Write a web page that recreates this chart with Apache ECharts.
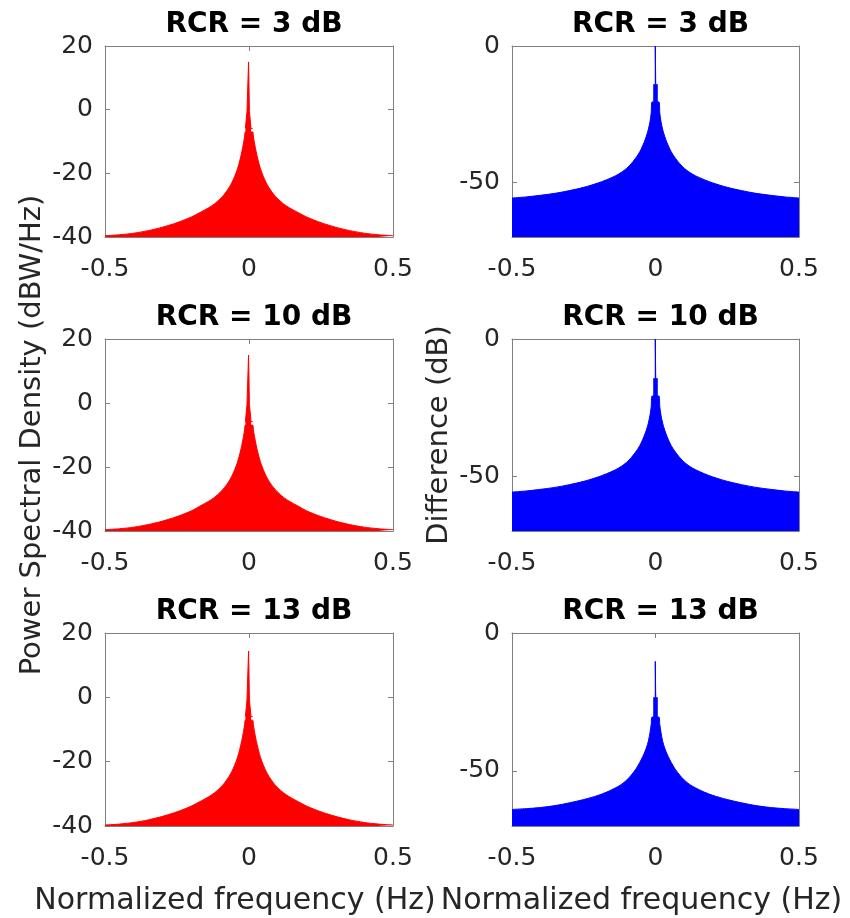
<!DOCTYPE html>
<html>
<head>
<meta charset="utf-8">
<script src="https://cdn.jsdelivr.net/npm/echarts@6/dist/echarts.min.js"></script>
<style>
html,body{margin:0;padding:0;background:#fff;}
#chart{width:850px;height:918px;}
</style>
</head>
<body>
<div id="chart"></div>
<script>
// ---- data ----
const titles = ['RCR = 3 dB', 'RCR = 10 dB', 'RCR = 13 dB'];
const xTicks = [-0.5, 0, 0.5];
const psdTicks = [-40, -20, 0, 20];
const diffTicks = [-50, 0];

// left column (PSD): envelope of the skirts
const leftTailFreq = [-0.5,-0.45,-0.4,-0.35,-0.3,-0.25,-0.2,-0.17,-0.14,-0.12,-0.1,-0.085,-0.07,-0.06,-0.05,-0.04,-0.032,-0.025,-0.019,-0.015,-0.0125,
  0.0125,0.015,0.019,0.025,0.032,0.04,0.05,0.06,0.07,0.085,0.1,0.12,0.14,0.17,0.2,0.25,0.3,0.35,0.4,0.45,0.5];
const psdTail3 = [-39.6,-39.3,-38.8,-38.0,-36.9,-35.5,-33.7,-32.3,-30.8,-29.6,-28.0,-26.5,-24.6,-23.0,-21.0,-18.6,-16.0,-13.3,-10.5,-8.3,-7.0,
  -7.0,-8.3,-10.5,-13.3,-16.0,-18.6,-21.0,-23.0,-24.6,-26.5,-28.0,-29.6,-30.8,-32.3,-33.7,-35.5,-36.9,-38.0,-38.8,-39.3,-39.6];
const psdTail10 = [-39.6,-39.3,-38.8,-38.0,-36.9,-35.5,-33.7,-32.2,-30.7,-29.5,-27.9,-26.4,-24.5,-22.9,-20.9,-18.5,-15.9,-13.2,-10.4,-8.2,-6.9,
  -6.9,-8.2,-10.4,-13.2,-15.9,-18.5,-20.9,-22.9,-24.5,-26.4,-27.9,-29.5,-30.7,-32.2,-33.7,-35.5,-36.9,-38.0,-38.8,-39.3,-39.6];
const psdTail13 = [-39.7,-39.4,-38.9,-38.1,-37.0,-35.6,-33.8,-32.4,-30.9,-29.7,-28.1,-26.6,-24.7,-23.1,-21.1,-18.7,-16.1,-13.4,-10.6,-8.4,-7.1,
  -7.1,-8.4,-10.6,-13.4,-16.1,-18.7,-21.1,-23.1,-24.7,-26.6,-28.1,-29.7,-30.9,-32.4,-33.8,-35.6,-37.0,-38.1,-38.9,-39.4,-39.7];
// left column: stepped peak at f = 0
const leftPeakFreq = [-0.0125,-0.007,-0.007,-0.0015,-0.0015,0.0015,0.0015,0.007,0.007,0.0125];
const psdPeak3  = [-5.9,-5.9,-0.6,-0.6,15,15,-0.6,-0.6,-5.9,-5.9];
const psdPeak10 = [-5.8,-5.8,-0.5,-0.5,15,15,-0.5,-0.5,-5.8,-5.8];
const psdPeak13 = [-6.0,-6.0,-0.8,-0.8,14.4,14.4,-0.8,-0.8,-6.0,-6.0];

// right column (difference): envelope of the skirts
const rightTailFreq = [-0.5,-0.45,-0.4,-0.35,-0.3,-0.25,-0.2,-0.17,-0.14,-0.12,-0.1,-0.085,-0.07,-0.06,-0.05,-0.04,-0.032,-0.025,-0.019,-0.015,-0.012,
  0.012,0.015,0.019,0.025,0.032,0.04,0.05,0.06,0.07,0.085,0.1,0.12,0.14,0.17,0.2,0.25,0.3,0.35,0.4,0.45,0.5];
const diffTail3 = [-55.7,-55.3,-54.7,-54.0,-53.0,-51.8,-50.2,-49.0,-47.6,-46.4,-44.8,-43.2,-41.2,-39.7,-37.8,-35.4,-33.1,-30.6,-27.6,-24.6,-20.5,
  -20.5,-24.6,-27.6,-30.6,-33.1,-35.4,-37.8,-39.7,-41.2,-43.2,-44.8,-46.4,-47.6,-49.0,-50.2,-51.8,-53.0,-54.0,-54.7,-55.3,-55.7];
const diffTail10 = [-55.8,-55.4,-54.8,-54.1,-53.1,-51.9,-50.3,-49.1,-47.7,-46.5,-44.9,-43.3,-41.3,-39.8,-37.9,-35.5,-33.2,-30.7,-27.7,-24.8,-20.8,
  -20.8,-24.8,-27.7,-30.7,-33.2,-35.5,-37.9,-39.8,-41.3,-43.3,-44.9,-46.5,-47.7,-49.1,-50.3,-51.9,-53.1,-54.1,-54.8,-55.4,-55.8];
const diffTail13 = [-64.0,-63.7,-63.3,-62.6,-61.6,-60.4,-58.9,-57.7,-56.2,-55.0,-53.3,-51.6,-49.6,-47.9,-46.0,-43.8,-41.7,-39.3,-36.0,-33.2,-30.5,
  -30.5,-33.2,-36.0,-39.3,-41.7,-43.8,-46.0,-47.9,-49.6,-51.6,-53.3,-55.0,-56.2,-57.7,-58.9,-60.4,-61.6,-62.6,-63.3,-63.7,-64.0];
// right column: stepped peak at f = 0
const rightPeakFreq = [-0.008,-0.0008,-0.0008,0.0008,0.0008,0.008];
const diffPeak3  = [-14.2,-14.2,0,0,-14.2,-14.2];
const diffPeak10 = [-14.5,-14.5,0,0,-14.5,-14.5];
const diffPeak13 = [-23.5,-23.5,-10.3,-10.3,-23.5,-23.5];

const psdTails = [psdTail3, psdTail10, psdTail13];
const psdPeaks = [psdPeak3, psdPeak10, psdPeak13];
const diffTails = [diffTail3, diffTail10, diffTail13];
const diffPeaks = [diffPeak3, diffPeak10, diffPeak13];

// ---- layout / style ----
const FONT = 'DejaVu Sans';
const TXT = '#262626';
const FRAME = '#808080';
const rowTops = [46, 339, 633];
const rowHeights = [191, 192, 193];
const colLeft = [105, 512];
const colWidth = [288, 287];

const grid = [], xAxis = [], yAxis = [], series = [], title = [];
function pair(xs, ys) { return xs.map((x, i) => [x, ys[i]]); }

for (let r = 0; r < 3; r++) {
  for (let c = 0; c < 2; c++) {
    const gi = grid.length;
    grid.push({ left: colLeft[c], top: rowTops[r], width: colWidth[c], height: rowHeights[r], containLabel: false });
    title.push({
      text: titles[r], left: colLeft[c] + colWidth[c] / 2, top: rowTops[r] - 40, textAlign: 'center',
      textStyle: { fontFamily: FONT, fontWeight: 'bold', fontSize: 28, color: '#000' }
    });
    const isLeft = c === 0;
    const yTicks = isLeft ? psdTicks : diffTicks;
    const yMin = isLeft ? -40 : -70, yMax = isLeft ? 20 : 0;
    const bottomRow = r === 2;
    xAxis.push({
      type: 'value', gridIndex: gi, min: -0.5, max: 0.5, interval: 0.5, position: 'bottom',
      axisLine: { show: true, onZero: false, lineStyle: { color: FRAME, width: 1 } },
      axisTick: { show: true, inside: true, length: 5, lineStyle: { color: FRAME }, customValues: [0] },
      axisLabel: { show: true, customValues: xTicks, formatter: v => String(v), fontFamily: FONT, fontSize: 25, color: TXT, margin: 20 },
      splitLine: { show: false },
      name: bottomRow ? 'Normalized frequency (Hz)' : '', nameLocation: 'middle', nameGap: 60,
      nameTextStyle: { fontFamily: FONT, fontSize: 30, color: TXT, padding: [0, 28, 0, 0] }
    });
    xAxis.push({
      type: 'value', gridIndex: gi, min: -0.5, max: 0.5, interval: 0.5, position: 'top',
      axisLine: { show: true, onZero: false, lineStyle: { color: FRAME, width: 1 } },
      axisTick: { show: true, inside: true, length: 5, lineStyle: { color: FRAME }, customValues: [0] },
      axisLabel: { show: false }, splitLine: { show: false }
    });
    yAxis.push({
      type: 'value', gridIndex: gi, min: yMin, max: yMax, position: 'left',
      axisLine: { show: true, onZero: false, lineStyle: { color: FRAME, width: 1 } },
      axisTick: { show: true, inside: true, length: 5, lineStyle: { color: FRAME }, customValues: yTicks },
      axisLabel: { show: true, customValues: yTicks, fontFamily: FONT, fontSize: 25, color: TXT, margin: 12 },
      splitLine: { show: false },
      name: (r === 1) ? (isLeft ? 'Power Spectral Density (dBW/Hz)' : 'Difference (dB)') : '',
      nameLocation: 'middle', nameGap: 58,
      nameTextStyle: { fontFamily: FONT, fontSize: 29, color: TXT }
    });
    yAxis.push({
      type: 'value', gridIndex: gi, min: yMin, max: yMax, position: 'right',
      axisLine: { show: true, onZero: false, lineStyle: { color: FRAME, width: 1 } },
      axisTick: { show: true, inside: true, length: 5, lineStyle: { color: FRAME }, customValues: yTicks },
      axisLabel: { show: false }, splitLine: { show: false }
    });
    const col = isLeft ? '#ff0000' : '#0000ff';
    const tailX = isLeft ? leftTailFreq : rightTailFreq;
    const tailY = isLeft ? psdTails[r] : diffTails[r];
    const peakX = isLeft ? leftPeakFreq : rightPeakFreq;
    const peakY = isLeft ? psdPeaks[r] : diffPeaks[r];
    const common = {
      type: 'line', xAxisIndex: 2 * gi, yAxisIndex: 2 * gi,
      showSymbol: false, symbol: 'none', silent: true, animation: false,
      lineStyle: { color: col, width: 1 },
      areaStyle: { color: col, opacity: 1, origin: 'start' },
      clip: true, z: 1
    };
    series.push(Object.assign({}, common, { data: pair(tailX, tailY), smooth: 0.3 }));
    series.push(Object.assign({}, common, { data: pair(peakX, peakY), smooth: false }));
  }
}

const chart = echarts.init(document.getElementById('chart'), null, { renderer: 'canvas' });
chart.setOption({ animation: false, backgroundColor: '#fff', title, grid, xAxis, yAxis, series });
</script>
</body>
</html>
